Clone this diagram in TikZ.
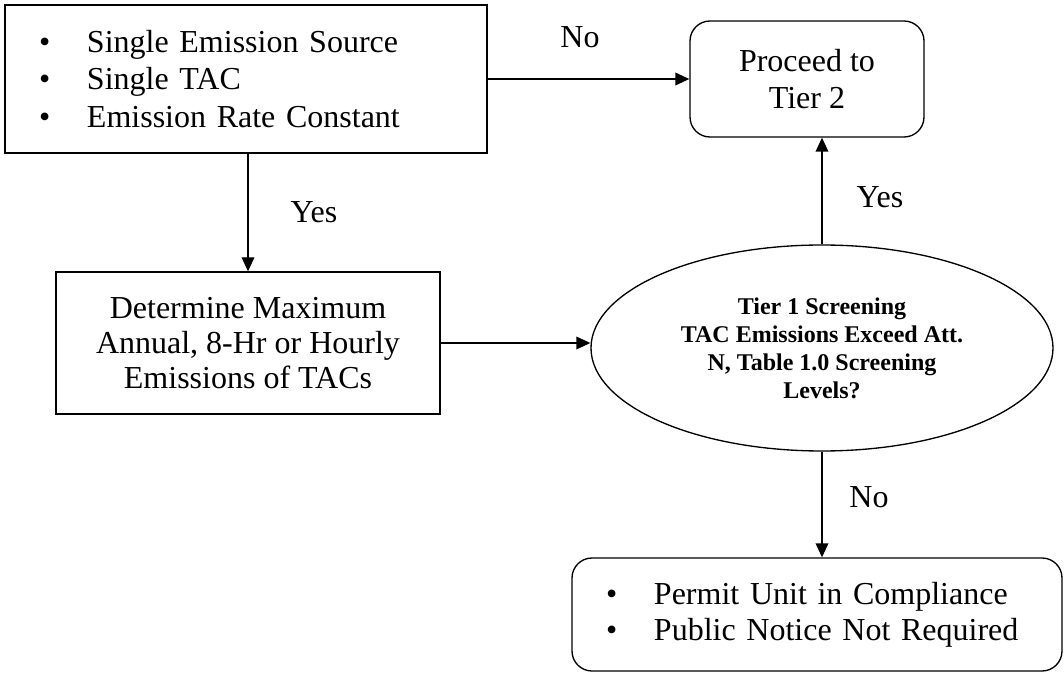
\documentclass[tikz,border=0pt]{standalone}
\usepackage{fontspec}
\setmainfont{Liberation Serif}
\usetikzlibrary{arrows.meta, shapes.geometric}

\newcommand{\bitem}[1]{\makebox[36pt][l]{\textbullet}#1}

\tikzset{
    box/.style={draw, line width=1pt, inner sep=0pt, font=\fontsize{24}{28}\selectfont},
    roundbox/.style={box, rounded corners=15pt},
    decision/.style={draw, ellipse, line width=1pt, inner sep=0pt, align=center, font=\fontsize{18}{21}\selectfont\bfseries},
    answer/.style={font=\fontsize{24}{28}\selectfont},
    flow/.style={-{Triangle[length=10.5pt, width=9.5pt]}, line width=1pt}
}

\begin{document}
\begin{tikzpicture}[x=0.75pt, y=-0.75pt]
            \useasboundingbox (0,0) rectangle (1064,673);
            \node[box, minimum width=361.5pt, minimum height=111pt, text width=310.5pt, inner xsep=25.5pt, align=left] (src) at (246,79) {\bitem{Single Emission Source}\\\bitem{Single TAC}\\\bitem{Emission Rate Constant}};
            \node[roundbox, minimum width=175.5pt, minimum height=87pt, align=center] (tier2) at (807,79) {Proceed to\\Tier 2};
            \node[box, minimum width=288pt, minimum height=106.5pt, align=center, font=\fontsize{24}{26.5}\selectfont] (maxem) at (248,343) {Determine Maximum\\Annual, 8-Hr or Hourly\\Emissions of TACs};
            \node[decision, minimum width=346.5pt, minimum height=154.5pt] (screen) at (822,348) {Tier 1 Screening\\TAC Emissions Exceed Att.\\N, Table 1.0 Screening\\Levels?};
            \node[roundbox, minimum width=367.5pt, minimum height=84.75pt, text width=316.5pt, inner xsep=25.5pt, align=left, font=\fontsize{24}{27}\selectfont] (done) at (817,614.5) {\bitem{Permit Unit in Compliance}\\\bitem{Public Notice Not Required}};
            \draw[flow] (src.east) -- (tier2.west);
            \draw[flow] (src.south -| maxem.north) -- (maxem.north);
            \draw[flow] (maxem.east) -- (maxem.east -| screen.west);
            \draw[flow] (screen.north) -- (screen.north |- tier2.south);
            \draw[flow] (screen.south) -- (screen.south |- done.north);
            \node[answer] (no1) at (580,37) {No};
            \node[answer] (yes1) at (314,212) {Yes};
            \node[answer] (yes2) at (880,197) {Yes};
            \node[answer] (no2) at (869,497) {No};
\end{tikzpicture}
\end{document}
